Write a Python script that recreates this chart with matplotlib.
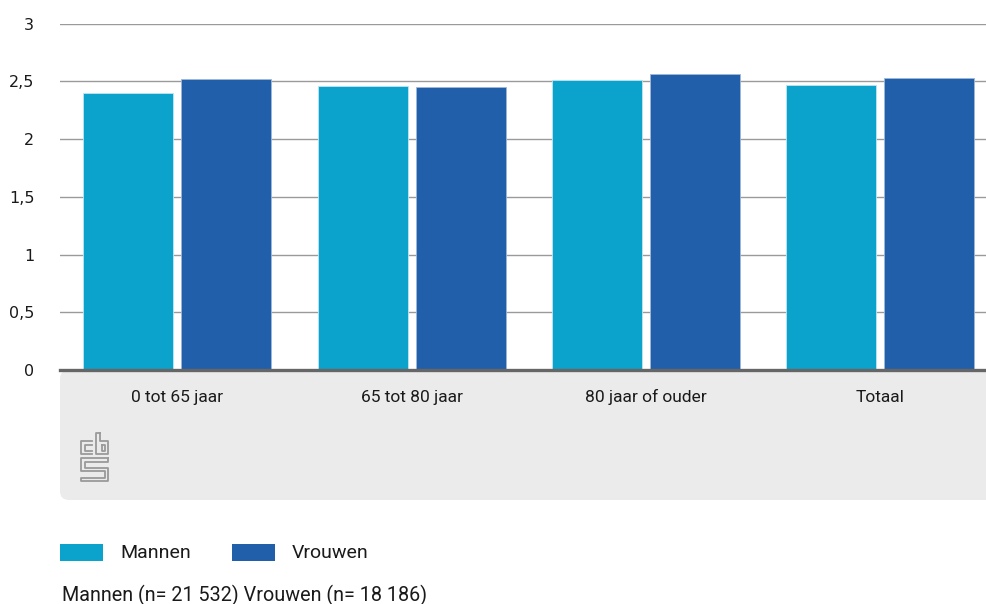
import matplotlib
matplotlib.use("Agg")
import matplotlib.pyplot as plt
from matplotlib.patches import FancyBboxPatch
from matplotlib.lines import Line2D
from matplotlib.transforms import IdentityTransform
import numpy as np

# gemiddelde per leeftijdsgroep
categories = ["0 tot 65 jaar", "65 tot 80 jaar", "80 jaar of ouder", "Totaal"]
mannen = [2.40, 2.46, 2.51, 2.47]
vrouwen = [2.52, 2.45, 2.56, 2.53]
series_names = ["Mannen", "Vrouwen"]
yticks = [0, 0.5, 1, 1.5, 2, 2.5, 3]
ytick_labels = ["0", "0,5", "1", "1,5", "2", "2,5", "3"]
footnote = "Mannen (n= 21 532) Vrouwen (n= 18 186)"

c_man = "#0ba3cb"
c_vrouw = "#225fab"
txt = "#1a1a1a"
lab_font = ["Roboto", "DejaVu Sans"]

W, H = 986, 604
fig = plt.figure(figsize=(W / 100, H / 100), dpi=100)

# grijs vlak onder de x-as, met ronde hoek linksonder
panel = FancyBboxPatch((60, H - 500), 960, 130, boxstyle="round,pad=0,rounding_size=9",
                       transform=IdentityTransform(), facecolor="#ebebeb",
                       edgecolor="none", zorder=-1)
fig.patches.append(panel)

ax = fig.add_axes([60 / W, 1 - 370 / H, 937.5 / W, 346.3 / H])
ax.set_facecolor("none")
x = np.arange(len(categories))
bw = 0.384
off = 0.209
ax.bar(x - off, mannen, bw, color=c_man, edgecolor="#bfe6f2", linewidth=0.6, zorder=3)
ax.bar(x + off, vrouwen, bw, color=c_vrouw, edgecolor="#9fb8da", linewidth=0.6, zorder=3)

ax.set_xlim(-0.5, len(categories) - 0.5)
ax.set_ylim(0, 3)
ax.set_yticks(yticks)
ax.set_yticklabels(ytick_labels, fontsize=11.5, color=txt)
ax.yaxis.grid(True, color="#9a9a9a", linewidth=1.0, zorder=1)
ax.tick_params(axis="y", length=0, pad=18.5)
ax.set_xticks([])
for s in ["top", "right", "left"]:
    ax.spines[s].set_visible(False)
ax.spines["bottom"].set_color("#666666")
ax.spines["bottom"].set_linewidth(2.4)
ax.spines["bottom"].set_zorder(4)

for xi, name in zip(x, categories):
    ax.text(xi, -0.235, name, ha="center", va="center", fontsize=12.5,
            color=txt, family=lab_font)

# cbs-logo
logo = [
    [(92, 441), (81, 441), (81, 454), (92, 454)],
    [(92, 444.5), (84.5, 444.5), (84.5, 450.5), (92, 450.5)],
    [(99.5, 433), (96, 433), (96, 454), (108, 454), (108, 441), (99.5, 441), (99.5, 433)],
    [(101.5, 444.5), (105, 444.5), (105, 450.5), (101.5, 450.5), (101.5, 444.5)],
    [(108, 458), (81, 458), (81, 471), (104.5, 471), (104.5, 477.5), (81, 477.5), (81, 481), (108, 481),
     (108, 467.5), (84.5, 467.5), (84.5, 461.5), (108, 461.5), (108, 458)],
]
for pts in logo:
    px, py = zip(*pts)
    fig.lines.append(Line2D(px, [H - v for v in py], transform=IdentityTransform(),
                            color="#9a9a9a", linewidth=1.3))

# legenda
for i, (name, col) in enumerate(zip(series_names, [c_man, c_vrouw])):
    x0 = 60 + i * 172
    fig.patches.append(plt.Rectangle((x0, H - 561), 43, 17, transform=IdentityTransform(),
                                     facecolor=col, edgecolor="none"))
    fig.text((x0 + 60) / W, 1 - 552.5 / H, name, ha="left", va="center",
             fontsize=14, color=txt, family=lab_font)

fig.text(62 / W, 1 - 595 / H, footnote, ha="left", va="center",
         fontsize=14.2, color=txt, family=lab_font)

fig.savefig("out.png", dpi=100)
